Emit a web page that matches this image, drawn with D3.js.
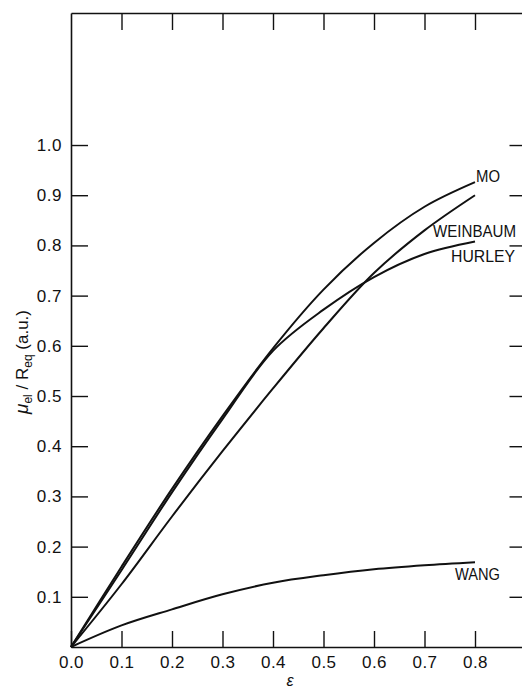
<!DOCTYPE html>
<html>
<head>
<meta charset="utf-8">
<script src="https://cdn.jsdelivr.net/npm/d3@7"></script>
<style>
  body { margin: 0; background: #fff; }
  svg { display: block; }
  text { font-family: "Liberation Sans", Arial, sans-serif; fill: #111; }
</style>
</head>
<body>
<div id="chart"></div>
<script>
// DATA
const eps      = [0, 0.1, 0.2, 0.3, 0.4, 0.5, 0.6, 0.7, 0.8]
const mo       = [0, 0.160, 0.315, 0.460, 0.595, 0.712, 0.805, 0.877, 0.926]
const hurley   = [0, 0.153, 0.308, 0.454, 0.590, 0.672, 0.737, 0.783, 0.808]
const weinbaum = [0, 0.125, 0.260, 0.390, 0.515, 0.635, 0.745, 0.830, 0.900]
const wang     = [0, 0.043, 0.075, 0.105, 0.128, 0.143, 0.155, 0.163, 0.169]

const xTicks = [0, 0.1, 0.2, 0.3, 0.4, 0.5, 0.6, 0.7, 0.8]
const yTicks = [0.1, 0.2, 0.3, 0.4, 0.5, 0.6, 0.7, 0.8, 0.9, 1.0]

const width = 522, height = 688

const svg = d3.select("#chart")
  .append("svg")
    .attr("width", width)
    .attr("height", height)

// SCALES
const xScale = d3.scaleLinear().domain([0, 0.9]).range([71, 525.5])
const yScale = d3.scaleLinear().domain([0, 1.263]).range([647, 13])

const x0 = xScale(0), x1 = xScale(0.9), y0 = yScale(0), y1 = yScale(1.263)

// AXES (ticks point inward on all four sides)
const bottomAxis = svg.append("g")
    .attr("transform", `translate(0,${y0})`)
    .call(d3.axisBottom(xScale)
        .tickValues(xTicks)
        .tickSize(-16)
        .tickSizeOuter(0)
        .tickFormat(d3.format(".1f")))
bottomAxis.selectAll("text")
    .attr("y", 21).attr("dy", 0)
    .attr("font-size", 17)
    .attr("letter-spacing", 0.5)

const topAxis = svg.append("g")
    .attr("transform", `translate(0,${y1})`)
    .call(d3.axisTop(xScale)
        .tickValues(xTicks.slice(1))
        .tickSize(-17)
        .tickSizeOuter(0)
        .tickFormat(""))

const leftAxis = svg.append("g")
    .attr("transform", `translate(${x0},0)`)
    .call(d3.axisLeft(yScale)
        .tickValues(yTicks)
        .tickSize(-17)
        .tickSizeOuter(0)
        .tickFormat(d3.format(".1f")))
leftAxis.selectAll("text")
    .attr("x", -9)
    .attr("font-size", 17)
    .attr("letter-spacing", 0.5)

const rightAxis = svg.append("g")
    .attr("transform", `translate(${x1},0)`)
    .call(d3.axisRight(yScale)
        .tickValues(yTicks)
        .tickSize(-16)
        .tickSizeOuter(0)
        .tickFormat(""))

svg.selectAll(".domain").attr("stroke", "#111").attr("stroke-width", 1.6)
svg.selectAll(".tick line").attr("stroke", "#111").attr("stroke-width", 1.4)
svg.selectAll(".tick text").attr("fill", "#111").attr("font-family", "Liberation Sans, Arial, sans-serif")

// CURVES
const line = d3.line()
    .x((d, i) => xScale(eps[i]))
    .y(d => yScale(d))
    .curve(d3.curveCatmullRom.alpha(0.5))

const series = [mo, hurley, weinbaum, wang]
svg.append("g")
  .selectAll("path")
  .data(series)
  .join("path")
    .attr("d", d => line(d))
    .attr("fill", "none")
    .attr("stroke", "#111")
    .attr("stroke-width", 2)

// CURVE LABELS
const labels = [
  {name: "MO",       x: 476, y: 182, w: 24},
  {name: "WEINBAUM", x: 433, y: 237, w: 83},
  {name: "HURLEY",   x: 451, y: 262, w: 64},
  {name: "WANG",     x: 455, y: 580, w: 45}
]
svg.append("g")
  .selectAll("text")
  .data(labels)
  .join("text")
    .attr("x", d => d.x)
    .attr("y", d => d.y)
    .attr("font-size", 16)
    .attr("textLength", d => d.w)
    .attr("lengthAdjust", "spacingAndGlyphs")
    .text(d => d.name)

// AXIS TITLES
const yTitle = svg.append("text")
    .attr("transform", "translate(28,362) rotate(-90)")
    .attr("text-anchor", "middle")
    .attr("font-size", 17)
yTitle.append("tspan").attr("font-style", "italic").attr("font-size", 19).text("\u03BC")
yTitle.append("tspan").attr("font-size", 12).attr("dy", 4).text("el")
yTitle.append("tspan").attr("dy", -4).text(" / R")
yTitle.append("tspan").attr("font-size", 12).attr("dy", 4).text("eq")
yTitle.append("tspan").attr("dy", -4).text(" (a.u.)")

svg.append("text")
    .attr("x", 290)
    .attr("y", 686)
    .attr("text-anchor", "middle")
    .attr("font-size", 16)
    .attr("font-style", "italic")
    .text("\u03B5")
</script>
</body>
</html>
